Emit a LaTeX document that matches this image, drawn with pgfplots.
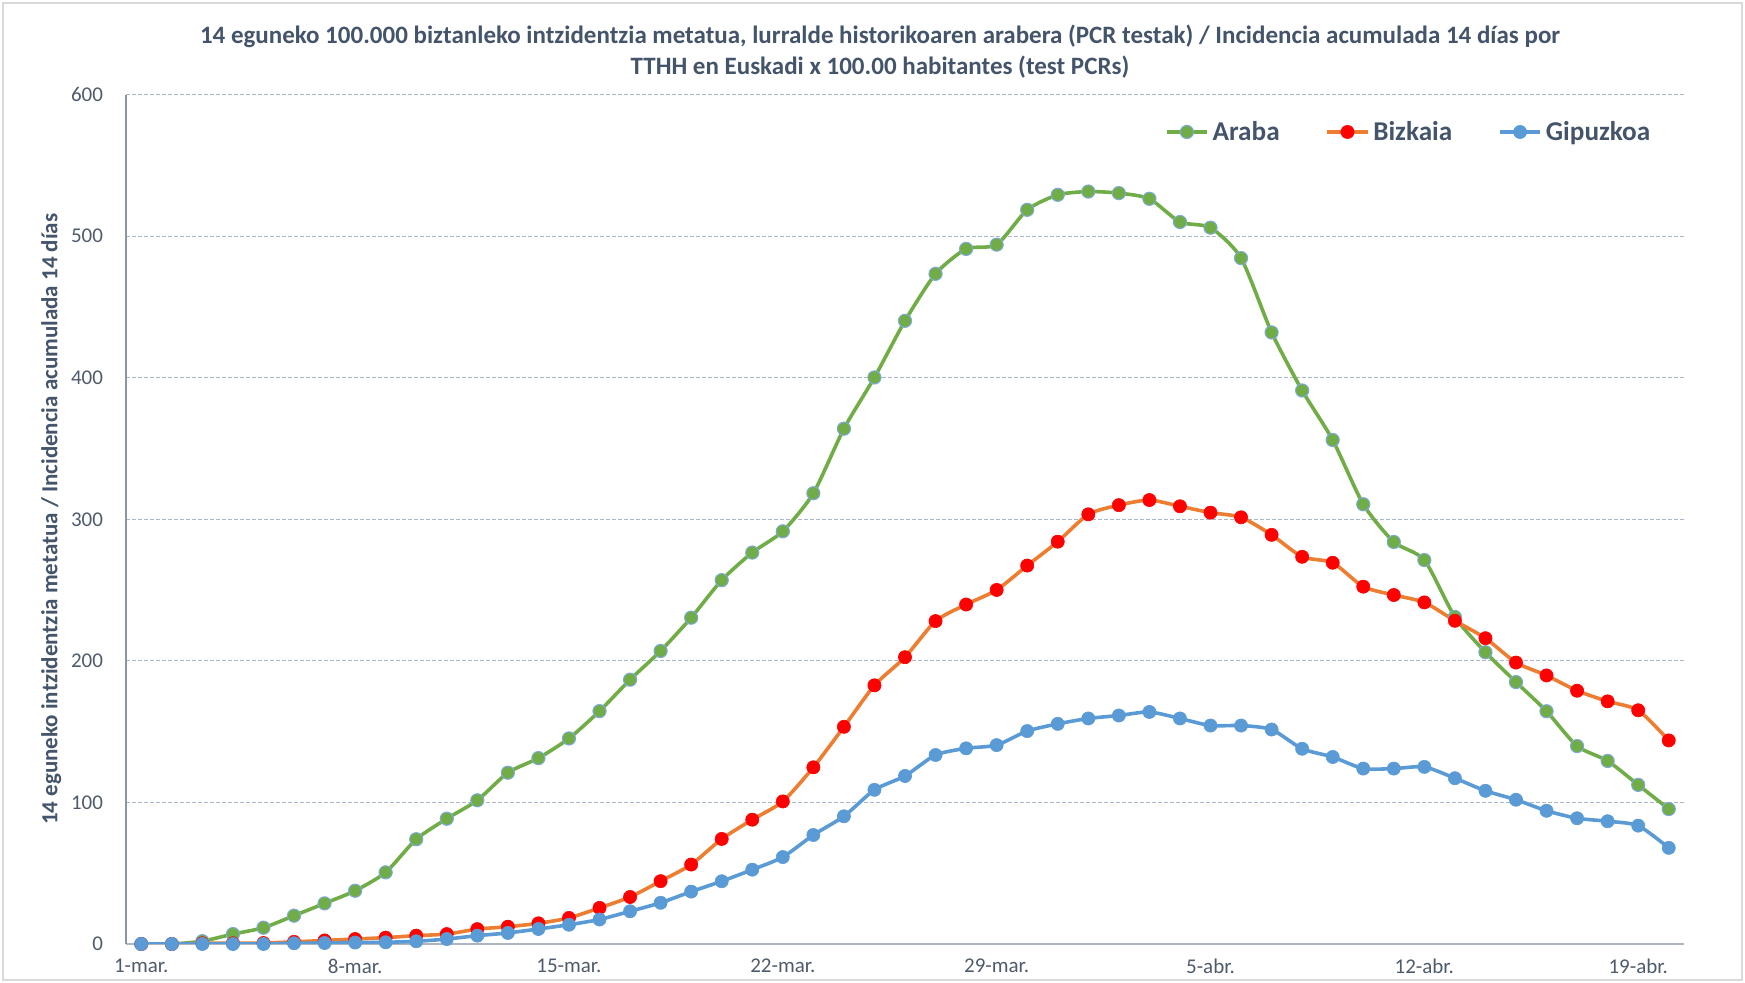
\documentclass[border=0pt]{standalone}
\usepackage{fontspec}
\setmainfont{Carlito}
\usepackage{pgfplots}
\usepackage{pgfplotstable}
\pgfplotsset{compat=1.18}
\definecolor{araba}{HTML}{70AD47}
\definecolor{arabaedge}{HTML}{7FA9DA}
\definecolor{bizline}{HTML}{ED7D31}
\definecolor{bizmark}{HTML}{FF0000}
\definecolor{gipu}{HTML}{5B9BD5}
\definecolor{titlec}{HTML}{44546A}
\definecolor{tickc}{HTML}{4F5B6B}
\definecolor{gridc}{HTML}{A9B6CB}
\definecolor{axisc}{HTML}{8C95A3}
\definecolor{framec}{HTML}{D9D9D9}

\pgfplotstableread{
d A B G
0 0 0 0
1 0 0 0
2 2 0.5 0
3 7 0.5 0
4 11.5 0.7 0
5 20 1.5 0.5
6 28.7 2.5 0.7
7 37.6 3.5 1
8 50.6 4.5 1.2
9 74 5.9 1.9
10 88.5 7 3.5
11 101.5 10.5 5.9
12 121 12.2 7.8
13 131.3 14.6 10.6
14 145.2 18.4 13.6
15 164.5 25.5 17.3
16 186.7 33.2 23.1
17 207 44.4 29.1
18 230.5 56.1 37
19 257 74.2 44.3
20 276.5 87.8 52.5
21 291.5 100.7 61.4
22 318.4 124.8 77
23 364 153.4 90.2
24 400.2 182.7 108.9
25 440.2 202.6 118.7
26 473.4 228.1 133.5
27 491 239.8 138.2
28 494 250.1 140.5
29 518.6 267.3 150.4
30 529.2 284.2 155.5
31 531.5 303.5 159.3
32 530.4 310 161.4
33 526.4 313.6 163.9
34 510 309.2 159.3
35 506 304.7 154.3
36 484.5 301.4 154.3
37 432 289 151.5
38 391 273.5 137.9
39 356 269.3 132.1
40 310.6 252.4 123.9
41 284 246.5 123.9
42 271.2 241.3 125.1
43 231 228.3 117.1
44 206.1 216 108.2
45 185 198.8 101.9
46 164.4 189.7 94.1
47 139.8 178.9 88.8
48 129.3 171.4 86.7
49 112.4 165.1 83.6
50 95.3 143.8 67.9
}\datatable

\begin{document}
\begin{tikzpicture}
\useasboundingbox (0,0) rectangle (872.5pt,491.5pt);
\draw[framec, line width=0.75pt] (1.5pt,1.5pt) rectangle (871pt,490pt);
\node[align=center, text=titlec, font=\bfseries\fontsize{12.5}{15.5}\selectfont] at (440pt,465.5pt)
 {14 eguneko 100.000 biztanleko intzidentzia metatua, lurralde historikoaren arabera (PCR testak) / Incidencia acumulada 14 días por\\TTHH en Euskadi x 100.00 habitantes (test PCRs)};
\begin{axis}[
 at={(63pt,19.5pt)}, anchor=south west,
 scale only axis, width=779pt, height=424.7pt,
 xmin=-0.5, xmax=50.5, ymin=0, ymax=600,
 ytick={0,100,...,600},
 xtick={0,7,...,49},
 xticklabels={1-mar.,8-mar.,15-mar.,22-mar.,29-mar.,5-abr.,12-abr.,19-abr.},
 axis x line*=bottom, axis y line*=left,
 x axis line style={color=axisc!70, line width=1pt, -},
 y axis line style={color=axisc, line width=0.6pt, -},
 major tick length=0pt,
 ymajorgrids,
 grid style={gridc, line width=0.5pt, dash pattern=on 1.8pt off 1.2pt},
 /pgf/number format/assume math mode=true,
 tick label style={font=\fontsize{10.5}{12}\selectfont, text=tickc},
 yticklabel style={anchor=east, xshift=-8pt},
 xticklabel style={anchor=north, yshift=-4pt},
 every axis y label/.style={at={(axis description cs:-0.048,0.5)}, rotate=90, anchor=center},
 ylabel={14 eguneko intzidentzia metatua / Incidencia acumulada 14 días},
 ylabel style={font=\bfseries\fontsize{11.5}{13}\selectfont, text=titlec},
 legend columns=-1,
 legend style={at={(0.985,0.956)}, anchor=east, draw=none, fill=none,
   font=\bfseries\fontsize{13.6}{15}\selectfont, text=titlec,
   /tikz/every even column/.append style={column sep=21pt}},
 legend image code/.code={\draw[mark repeat=2,mark phase=2] plot coordinates {(0pt,0pt) (10pt,0pt) (20pt,0pt)};},
 every axis plot/.append style={smooth, tension=0.4, line width=1.8pt, mark=*, mark size=3.3pt},
]
\addplot[color=araba, mark options={fill=araba, draw=arabaedge, line width=0.5pt}] table[x=d,y=A] {\datatable};
\addlegendentry{Araba}
\addplot[color=bizline, mark options={fill=bizmark, draw=bizmark, line width=0.3pt}] table[x=d,y=B] {\datatable};
\addlegendentry{Bizkaia}
\addplot[color=gipu, mark options={fill=gipu, draw=gipu, line width=0.3pt}] table[x=d,y=G] {\datatable};
\addlegendentry{Gipuzkoa}
\end{axis}
\end{tikzpicture}
\end{document}
